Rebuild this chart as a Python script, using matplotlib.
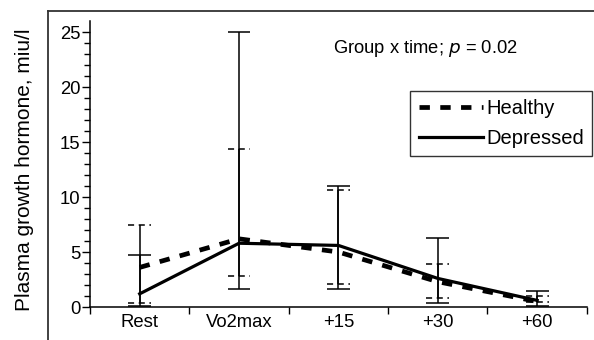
import numpy as np
import matplotlib
matplotlib.use("Agg")
import matplotlib.pyplot as plt
from matplotlib.lines import Line2D

plt.rcParams['font.family'] = ['Liberation Sans', 'DejaVu Sans']

# data
momentos = ["Rest", "Vo2max", "+15", "+30", "+60"]
healthy = [3.6, 6.2, 5.0, 2.3, 0.5]
healthy_sup = [7.5, 14.4, 10.6, 3.9, 1.0]
healthy_inf = [0.4, 2.8, 2.1, 0.8, 0.5]
depressed = [1.2, 5.8, 5.6, 2.6, 0.6]
depressed_sup = [4.7, 25.0, 11.0, 6.3, 1.5]
depressed_inf = [0.1, 1.6, 1.6, 0.4, 0.1]
yticks = [0, 5, 10, 15, 20, 25]

fig = plt.figure(figsize=(5.94, 3.4), dpi=100)
ax = fig.add_axes([0.1515, 0.097, 0.8365, 0.841])

x = np.arange(1, len(momentos) + 1)
meia = 0.115

# barras de erro
ax.vlines(x, healthy_inf, healthy_sup, colors='k', linewidth=1.1)
ax.vlines(x, depressed_inf, depressed_sup, colors='k', linewidth=1.1)
ax.hlines(depressed_sup, x - meia, x + meia, colors='k', linewidth=1.1)
ax.hlines(depressed_inf, x - meia, x + meia, colors='k', linewidth=1.1)
ax.hlines(healthy_sup, x - meia, x + meia, colors='k', linewidth=1.1, linestyles=(0, (4, 3)))
ax.hlines(healthy_inf, x - meia, x + meia, colors='k', linewidth=1.1, linestyles=(0, (4, 3)))

# medias
ax.plot(x, healthy, color='k', linewidth=3.4, linestyle=(0, (2.2, 2.2)), label='Healthy')
ax.plot(x, depressed, color='k', linewidth=2.3, linestyle='-', label='Depressed')

ax.set_xlim(0.5, len(momentos) + 0.5)
ax.set_ylim(0, 26)

ax.set_xticks(x)
ax.set_xticklabels(momentos, fontsize=13.3)
ax.set_xticks(np.arange(0.5, len(momentos) + 1, 1), minor=True)
ax.tick_params(axis='x', which='major', length=0, pad=5)
ax.tick_params(axis='x', which='minor', length=5, width=1, direction='out')

ax.set_yticks(yticks)
ax.set_yticklabels([str(t) for t in yticks], fontsize=13.3)
ax.set_yticks(np.arange(0, 26, 1), minor=True)
ax.tick_params(axis='y', which='major', length=6, width=1, direction='out', pad=1)
ax.tick_params(axis='y', which='minor', length=4, width=1, direction='out')

for lado in ['top', 'right']:
    ax.spines[lado].set_visible(False)
for lado in ['left', 'bottom']:
    ax.spines[lado].set_linewidth(1.1)

ax.set_ylabel("Plasma growth hormone, miu/l", fontsize=15)
ax.yaxis.set_label_coords(-0.112, 0.48)

ax.text(0.49, 0.905, "Group x time; $\\it{p}$ = 0.02", transform=ax.transAxes,
        fontsize=13.2, ha='left', va='center')

leg = ax.legend(loc='upper left', bbox_to_anchor=(0.645, 0.757), fontsize=14.5,
                frameon=True, fancybox=False, handlelength=3.2, handletextpad=0.15,
                borderpad=0.4, labelspacing=0.55, borderaxespad=0)
leg.get_frame().set_edgecolor('k')
leg.get_frame().set_linewidth(1.0)

# moldura externa (topo e esquerda)
fig.add_artist(Line2D([48 / 594, 1.0], [1 - 11 / 340, 1 - 11 / 340],
                      transform=fig.transFigure, color='#333333', linewidth=1.3))
fig.add_artist(Line2D([48 / 594, 48 / 594], [0, 1 - 11 / 340],
                      transform=fig.transFigure, color='#333333', linewidth=1.3))

fig.savefig("out.png", dpi=100)
